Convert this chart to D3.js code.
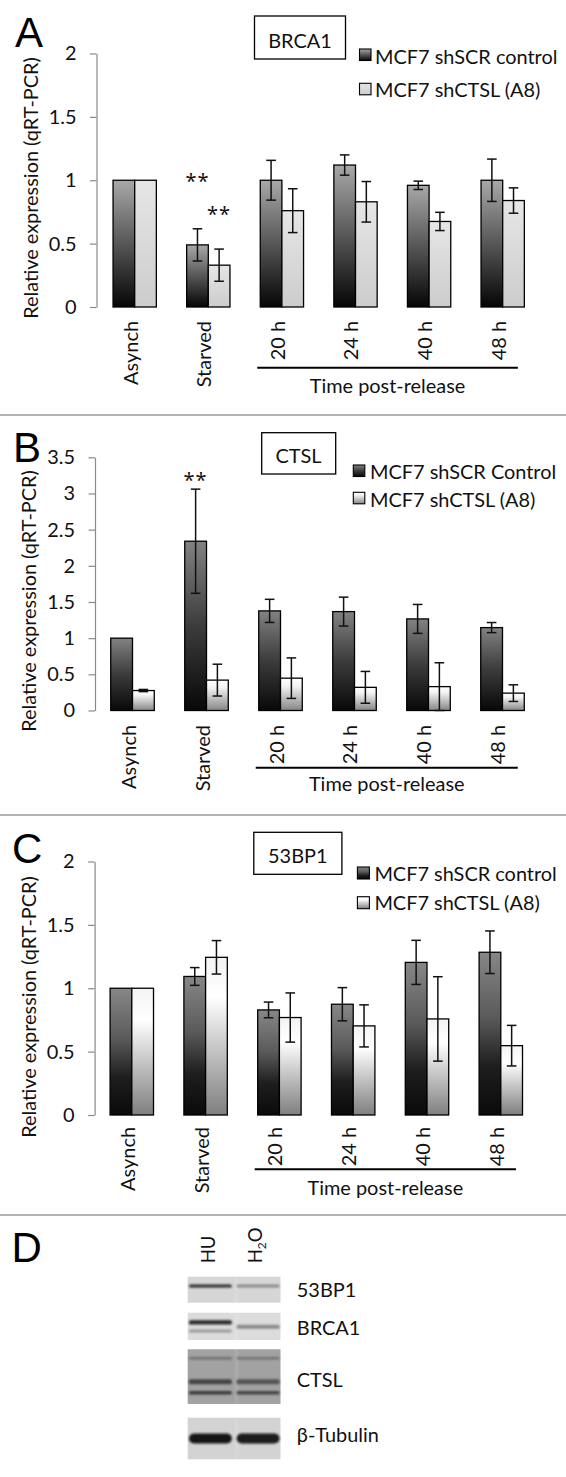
<!DOCTYPE html>
<html><head><meta charset="utf-8">
<script src="https://cdn.jsdelivr.net/npm/d3@7"></script>
<style>html,body{margin:0;padding:0;background:#fff;} svg{display:block;}</style>
</head><body>
<svg id="fig" width="566" height="1477"></svg>
<script>
// ---------------- DATA ----------------
const categories = ["Asynch", "Starved", "20 h", "24 h", "40 h", "48 h"];
const timeGroupLabel = "Time post-release";

// Panel A: BRCA1
const brca1Control    = [1.00, 0.49, 1.00, 1.12, 0.96, 1.00];
const brca1ControlErr = [0.00, 0.127, 0.157, 0.08, 0.033, 0.167];
const brca1Knock      = [1.00, 0.33, 0.76, 0.83, 0.675, 0.84];
const brca1KnockErr   = [0.00, 0.127, 0.173, 0.16, 0.072, 0.10];
const ticksA = [0, 0.5, 1, 1.5, 2];
const legendA = ["MCF7 shSCR control", "MCF7 shCTSL (A8)"];
const sigA = [{cat: "Starved", series: 0, at: 1.027}, {cat: "Starved", series: 1, at: 0.77}];

// Panel B: CTSL
const ctslControl    = [1.00, 2.34, 1.377, 1.367, 1.266, 1.146];
const ctslControlErr = [0.00, 0.72, 0.16, 0.20, 0.20, 0.07];
const ctslKnock      = [0.276, 0.42, 0.447, 0.32, 0.33, 0.24];
const ctslKnockErr   = [0.015, 0.22, 0.28, 0.22, 0.33, 0.115];
const ticksB = [0, 0.5, 1, 1.5, 2, 2.5, 3, 3.5];
const legendB = ["MCF7 shSCR Control", "MCF7 shCTSL (A8)"];
const sigB = [{cat: "Starved", series: 0, at: 3.255}];

// Panel C: 53BP1
const bp53Control    = [1.00, 1.093, 0.829, 0.874, 1.204, 1.284];
const bp53ControlErr = [0.00, 0.07, 0.062, 0.131, 0.174, 0.168];
const bp53Knock      = [1.00, 1.244, 0.769, 0.703, 0.758, 0.547];
const bp53KnockErr   = [0.00, 0.132, 0.194, 0.166, 0.333, 0.16];
const ticksC = [0, 0.5, 1, 1.5, 2];
const legendC = ["MCF7 shSCR control", "MCF7 shCTSL (A8)"];
const sigC = [];

// Panel D: western blot
const blotNames = ["53BP1", "BRCA1", "CTSL", "\u03B2-Tubulin"];
const laneNames = ["HU", "H2O"];

const yTitle = "Relative expression (qRT-PCR)";

// ---------------- SETUP ----------------
const FONT = "Lato, 'Noto Sans', sans-serif";
const svg = d3.select("#fig");
const probe = svg.append("text").attr("font-family", FONT).attr("font-size", 100).text(yTitle);
const FS = 100 * 262 / probe.node().getComputedTextLength();
probe.remove();

const defs = svg.append("defs");
function grad(id, stops) {
  const g = defs.append("linearGradient").attr("id", id)
    .attr("x1", 0).attr("y1", 0).attr("x2", 0).attr("y2", 1);
  stops.forEach(s => g.append("stop").attr("offset", s[0]).attr("stop-color", s[1]));
}
grad("darkA", [[0, "#a8a8a8"], [1, "#050505"]]);
grad("lightA", [[0, "#e6e6e6"], [1, "#cccccc"]]);
grad("darkB", [[0, "#828282"], [0.5, "#3c3c3c"], [1, "#080808"]]);
grad("lightB", [[0, "#ffffff"], [0.25, "#f2f2f2"], [1, "#858585"]]);
grad("darkC", [[0, "#878787"], [0.4, "#5a5a5a"], [0.7, "#1e1e1e"], [1, "#0a0a0a"]]);
grad("lightC", [[0, "#f3f3f3"], [0.25, "#ffffff"], [0.6, "#c2c2c2"], [1, "#7f7f7f"]]);
const blur = defs.append("filter").attr("id", "blur").attr("x", "-20%").attr("y", "-100%").attr("width", "140%").attr("height", "300%");
blur.append("feGaussianBlur").attr("stdDeviation", 1.1);
const blur2 = defs.append("filter").attr("id", "blur2");
blur2.append("feGaussianBlur").attr("stdDeviation", 0.8);

// separators
[415, 815, 1215].forEach(yy => svg.append("line").attr("x1", 0).attr("x2", 566)
  .attr("y1", yy).attr("y2", yy).attr("stroke", "#9a9a9a").attr("stroke-width", 1.5));

const panels = [
  {letter: "A", letterX: 15, letterY: 47, title: "BRCA1", box: [254.5, 16, 345.5, 59], titleX: 300, titleBase: 48.3,
   ctrl: brca1Control, ctrlErr: brca1ControlErr, sh: brca1Knock, shErr: brca1KnockErr,
   ticks: ticksA, legend: legendA, sig: sigA, dark: "darkA", light: "lightA",
   y0: 307, yTop: 53.5, axisX: 96.5, xStart: 97.9, step: 73.6,
   swX: 359.5, swY: [49, 83.3], sw: 11.5, legX: 375, legBase: [64, 96.7],
   yTitleX: 29.8, yTitleY: 188, labelGap: 14, bracketDy: 60.7, timeDy: 86},
  {letter: "B", letterX: 13, letterY: 462, title: "CTSL", box: [261.7, 432.7, 335.7, 474], titleX: 298.5, titleBase: 463.3,
   ctrl: ctslControl, ctrlErr: ctslControlErr, sh: ctslKnock, shErr: ctslKnockErr,
   ticks: ticksB, legend: legendB, sig: sigB, dark: "darkB", light: "lightB",
   y0: 710.5, yTop: 457.3, axisX: 95, xStart: 95.5, step: 74,
   swX: 353.3, swY: [465, 492.3], sw: 11.5, legX: 370, legBase: [479.3, 506.7],
   yTitleX: 28, yTitleY: 601, labelGap: 14.5, bracketDy: 57.2, timeDy: 80.8},
  {letter: "C", letterX: 12, letterY: 863, title: "53BP1", box: [253.8, 832.3, 341.9, 874.3], titleX: 297.8, titleBase: 863.3,
   ctrl: bp53Control, ctrlErr: bp53ControlErr, sh: bp53Knock, shErr: bp53KnockErr,
   ticks: ticksC, legend: legendC, sig: sigC, dark: "darkC", light: "lightC",
   y0: 1115, yTop: 861.5, axisX: 94.6, xStart: 94.9, step: 73.8,
   swX: 357.4, swY: [867, 896.7], sw: 12, legX: 374.4, legBase: [881, 910.3],
   yTitleX: 28, yTitleY: 1007, labelGap: 12, bracketDy: 54.3, timeDy: 79.7}
];

function text(g, x, y, str, size, anchor) {
  return g.append("text").attr("x", x).attr("y", y).attr("font-family", FONT)
    .attr("font-size", size).attr("fill", "#111").attr("text-anchor", anchor || "start").text(str);
}

panels.forEach(p => {
  const g = svg.append("g");
  const yMax = d3.max(p.ticks);
  const y = d3.scaleLinear().domain([0, yMax]).range([p.y0, p.yTop]);
  const x = d3.scaleBand().domain(categories)
    .range([p.xStart, p.xStart + categories.length * p.step])
    .paddingInner(0.4117).paddingOuter(0.2059);
  const xs = d3.scaleBand().domain([0, 1]).range([0, x.bandwidth()]);

  // panel letter
  g.append("text").attr("x", p.letterX).attr("y", p.letterY).attr("font-family", "'Liberation Sans', Arial, sans-serif")
    .attr("font-size", 42).attr("fill", "#000").text(p.letter);

  // axis
  const ax = g.append("g").attr("transform", `translate(${p.axisX},0)`)
    .call(d3.axisLeft(y).tickValues(p.ticks).tickSize(6.5).tickSizeOuter(0).tickPadding(13.5).tickFormat(d => String(d)));
  ax.select(".domain").attr("stroke", "#8a8a8a").attr("stroke-width", 1.2);
  ax.selectAll(".tick line").attr("stroke", "#8a8a8a").attr("stroke-width", 1.2);
  ax.selectAll(".tick text").attr("font-family", FONT).attr("font-size", FS).attr("fill", "#111");

  // y title
  g.append("text").attr("transform", `translate(${p.yTitleX},${p.yTitleY}) rotate(-90)`)
    .attr("text-anchor", "middle").attr("dominant-baseline", "central")
    .attr("font-family", FONT).attr("font-size", FS).attr("fill", "#111").text(yTitle);

  // bars
  const series = [
    {vals: p.ctrl, errs: p.ctrlErr, fill: p.dark},
    {vals: p.sh, errs: p.shErr, fill: p.light}
  ];
  series.forEach((s, si) => {
    const bars = g.append("g");
    categories.forEach((c, i) => {
      bars.append("rect")
        .attr("x", x(c) + xs(si)).attr("y", y(s.vals[i]))
        .attr("width", xs.bandwidth()).attr("height", y(0) - y(s.vals[i]))
        .attr("fill", `url(#${s.fill})`).attr("stroke", "#000").attr("stroke-width", 1.3);
    });
  });
  series.forEach((s, si) => {
    categories.forEach((c, i) => {
      const e = s.errs[i];
      if (!e) return;
      const cx = x(c) + xs(si) + xs.bandwidth() / 2;
      const eg = g.append("g").attr("stroke", "#111").attr("stroke-width", 1.5);
      eg.append("line").attr("x1", cx).attr("x2", cx).attr("y1", y(s.vals[i] - e)).attr("y2", y(s.vals[i] + e));
      [s.vals[i] - e, s.vals[i] + e].forEach(v =>
        eg.append("line").attr("x1", cx - 4.8).attr("x2", cx + 4.8).attr("y1", y(v)).attr("y2", y(v)));
    });
  });

  // significance marks
  p.sig.forEach(m => {
    const cx = x(m.cat) + xs(m.series) + xs.bandwidth() / 2;
    g.append("text").attr("x", cx).attr("y", y(m.at) + 11.5)
      .attr("font-family", "'Noto Sans', 'DejaVu Sans', sans-serif").attr("font-size", 20)
      .attr("fill", "#111").attr("text-anchor", "middle").attr("letter-spacing", 1).text("**");
  });

  // category labels
  categories.forEach(c => {
    g.append("text")
      .attr("transform", `translate(${x(c) + x.bandwidth() / 2 + 3},${p.y0 + p.labelGap}) rotate(-90)`)
      .attr("text-anchor", "end").attr("font-family", FONT).attr("font-size", FS).attr("fill", "#111").text(c);
  });

  // bracket for time post-release
  const bx1 = x("20 h") - 3, bx2 = x("48 h") + x.bandwidth() - 6.5;
  g.append("line").attr("x1", bx1).attr("x2", bx2).attr("y1", p.y0 + p.bracketDy).attr("y2", p.y0 + p.bracketDy)
    .attr("stroke", "#000").attr("stroke-width", 2);
  text(g, (bx1 + bx2) / 2, p.y0 + p.timeDy, timeGroupLabel, FS, "middle");

  // title box
  g.append("rect").attr("x", p.box[0]).attr("y", p.box[1]).attr("width", p.box[2] - p.box[0]).attr("height", p.box[3] - p.box[1])
    .attr("fill", "#fff").attr("stroke", "#000").attr("stroke-width", 1.3);
  text(g, p.titleX, p.titleBase, p.title, FS, "middle");

  // legend
  p.legend.forEach((name, i) => {
    g.append("rect").attr("x", p.swX).attr("y", p.swY[i]).attr("width", p.sw).attr("height", p.sw)
      .attr("fill", `url(#${i === 0 ? p.dark : p.light})`).attr("stroke", "#000").attr("stroke-width", 1.1);
    text(g, p.legX, p.legBase[i], name, FS);
  });
});

// ---------------- PANEL D: blot ----------------
const gd = svg.append("g");
gd.append("text").attr("x", 11.5).attr("y", 1261.7).attr("font-family", "'Liberation Sans', Arial, sans-serif")
  .attr("font-size", 42).attr("fill", "#000").text("D");

const laneX = d3.scaleBand().domain(laneNames).range([188, 280.5]).paddingInner(0.1).paddingOuter(0.02);
// lane labels
const laneBase = {"HU": 215, "H2O": 261.7};
laneNames.forEach(l => {
  const t = gd.append("text").attr("transform", `translate(${laneBase[l]},1263.3) rotate(-90)`)
    .attr("font-family", FONT).attr("font-size", FS * 0.93).attr("fill", "#111");
  if (l === "H2O") {
    t.append("tspan").text("H");
    t.append("tspan").attr("font-size", FS * 0.6).attr("dy", 4).text("2");
    t.append("tspan").attr("dy", -4).text("O");
  } else t.text(l);
});

const blotSpecs = [
  {top: 1276.7, bottom: 1302.7, bg: "#d6d6d6", base: 1297.3,
   bands: [{y: 1286, h: 3.2, c: ["#2e2e2e", "#8a8a8a"]}]},
  {top: 1312.7, bottom: 1340, bg: "#dcdcdc", base: 1335,
   bands: [{y: 1322.3, h: 4.2, c: ["#2a2a2a", null]}, {y: 1326.7, h: 4, c: [null, "#8c8c8c"]}, {y: 1331, h: 3, c: ["#9a9a9a", null]}]},
  {top: 1349.3, bottom: 1404, bg: "#a2a2a2", base: 1386.7,
   bands: [{y: 1358.3, h: 2.6, c: ["#6e6e6e", "#727272"]}, {y: 1381.7, h: 5, c: ["#454545", "#555"]}, {y: 1392.7, h: 3.6, c: ["#3a3a3a", "#444"]}]},
  {top: 1417.7, bottom: 1459.3, bg: "#d3d3d3", base: 1441.7,
   bands: [{y: 1438.5, h: 10, c: ["#161616", "#1c1c1c"]}]}
];
blotSpecs.forEach((b, bi) => {
  gd.append("rect").attr("x", 187.7).attr("y", b.top).attr("width", 92.8).attr("height", b.bottom - b.top).attr("fill", b.bg);
  // faint lane separation
  gd.append("rect").attr("x", 235).attr("y", b.top).attr("width", 3).attr("height", b.bottom - b.top)
    .attr("fill", "#fff").attr("opacity", 0.12).attr("filter", "url(#blur2)");
  b.bands.forEach(band => {
    laneNames.forEach((l, li) => {
      if (!band.c[li]) return;
      gd.append("rect").attr("x", laneX(l)).attr("y", band.y - band.h / 2)
        .attr("width", laneX.bandwidth()).attr("height", band.h)
        .attr("rx", bi === 3 ? 5 : 1.5)
        .attr("fill", band.c[li]).attr("filter", "url(#blur)");
    });
  });
  text(gd, 296.8, b.base, blotNames[bi], FS);
});
</script>
</body></html>
